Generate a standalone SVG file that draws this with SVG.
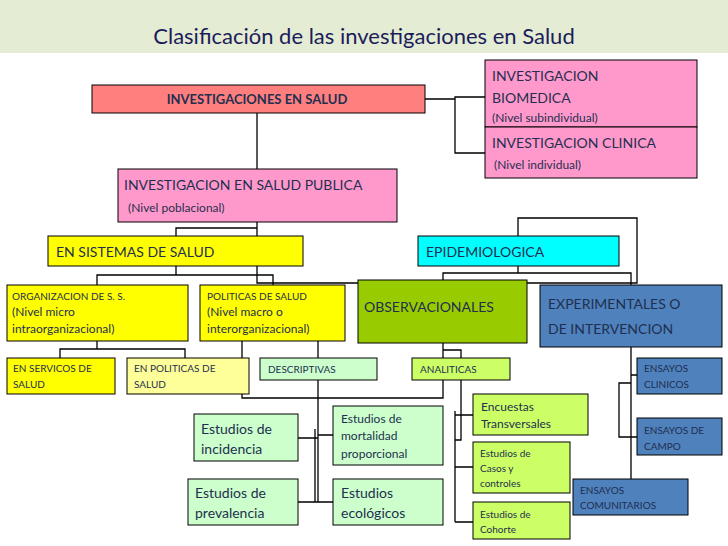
<svg xmlns="http://www.w3.org/2000/svg" width="728" height="546" viewBox="0 0 728 546">
<style>
rect{stroke:#000;stroke-width:1}
text{font-family:Lato,"Open Sans",sans-serif;fill:#1f2f4f}
.c path{fill:none;stroke:#000;stroke-width:1.3}
.s{font-size:10px}.m{font-size:12px}.l{font-size:14px}
</style>
<rect x="0" y="0" width="728" height="53" fill="#e4ecd4" style="stroke:none"/>
<text x="364" y="44" text-anchor="middle" style="font-size:22px;fill:#1c1c5a">Clasificación de las investigaciones en Salud</text>
<g class="c">
<path d="M425 99H455M485 97H455V153H485"/>
<path d="M257 113V169"/>
<path d="M257 222V228H176V236M257 228V283H637V218H518V236"/>
<path d="M176 266V275H97V285M176 275H273V285"/>
<path d="M518 266V273H443V280M518 273H631V285M631 347V479"/>
<path d="M97 341V349H60V358M97 349H185V358"/>
<path d="M242 341V398H443V343M443 343V350H461V358"/>
<path d="M318 341V502M298 438H318M318 435H333M298 502H333M315 429V502"/>
<path d="M461 380V440H455M455 411V522M455 415H473M455 467H473M455 522H473"/>
<path d="M631 375H637M631 383H619V437H637"/>
</g>
<g id="n1"><rect x="92" y="85" width="333" height="28" fill="#ff7f7f"/><text x="257" y="104" text-anchor="middle" style="font-size:13px;font-weight:bold">INVESTIGACIONES EN SALUD</text></g>
<g id="n2"><rect x="485" y="60" width="212" height="67" fill="#ff99cc"/><text x="492" y="81" class="l">INVESTIGACION</text><text x="492" y="103" class="l">BIOMEDICA</text><text x="492" y="122" class="m">(Nivel subindividual)</text></g>
<g id="n3"><rect x="485" y="127" width="212" height="51" fill="#ff99cc"/><text x="492" y="148" class="l">INVESTIGACION CLINICA</text><text x="494" y="169" class="m">(Nivel individual)</text></g>
<g id="n4"><rect x="118" y="169" width="279" height="53" fill="#ff99cc"/><text x="124" y="190" class="l">INVESTIGACION EN SALUD PUBLICA</text><text x="128" y="212" class="m">(Nivel poblacional)</text></g>
<g id="n5"><rect x="48" y="236" width="255" height="30" fill="#ffff00"/><text x="56" y="257" class="l">EN SISTEMAS DE SALUD</text></g>
<g id="n6"><rect x="418" y="236" width="201" height="30" fill="#00ffff"/><text x="426" y="257" class="l">EPIDEMIOLOGICA</text></g>
<g id="n7"><rect x="7" y="285" width="181" height="56" fill="#ffff00"/><text x="12" y="300" class="s">ORGANIZACION DE S. S.</text><text x="12" y="316" class="m">(Nivel micro</text><text x="12" y="333" class="m">intraorganizacional)</text></g>
<g id="n8"><rect x="200" y="285" width="145" height="56" fill="#ffff00"/><text x="207" y="300" class="s">POLITICAS DE SALUD</text><text x="207" y="316" class="m">(Nivel macro o</text><text x="207" y="333" class="m">interorganizacional)</text></g>
<g id="n9"><rect x="358" y="280" width="169" height="63" fill="#99cc00"/><text x="364" y="312" class="l">OBSERVACIONALES</text></g>
<g id="n10"><rect x="540" y="285" width="182" height="62" fill="#4f81bd"/><text x="548" y="309" class="l">EXPERIMENTALES O</text><text x="548" y="334" class="l">DE INTERVENCION</text></g>
<g id="n11"><rect x="7" y="358" width="108" height="36" fill="#ffff00"/><text x="13" y="372" class="s">EN SERVICOS DE</text><text x="13" y="388" class="s">SALUD</text></g>
<g id="n12"><rect x="127" y="358" width="122" height="36" fill="#ffff99"/><text x="134" y="372" class="s">EN POLITICAS DE</text><text x="134" y="388" class="s">SALUD</text></g>
<g id="n13"><rect x="260" y="358" width="117" height="22" fill="#ccffcc"/><text x="268" y="373" class="s">DESCRIPTIVAS</text></g>
<g id="n14"><rect x="412" y="358" width="98" height="22" fill="#ccff66"/><text x="420" y="373" class="s">ANALITICAS</text></g>
<g id="n15"><rect x="637" y="358" width="85" height="36" fill="#4f81bd"/><text x="644" y="372" class="s">ENSAYOS</text><text x="644" y="388" class="s">CLINICOS</text></g>
<g id="n16"><rect x="637" y="418" width="85" height="37" fill="#4f81bd"/><text x="644" y="434" class="s">ENSAYOS DE</text><text x="644" y="450" class="s">CAMPO</text></g>
<g id="n17"><rect x="573" y="479" width="115" height="36" fill="#4f81bd"/><text x="580" y="494" class="s">ENSAYOS</text><text x="580" y="509" class="s">COMUNITARIOS</text></g>
<g id="n18"><rect x="473" y="394" width="115" height="41" fill="#ccff66"/><text x="481" y="411" class="m">Encuestas</text><text x="481" y="428" class="m">Transversales</text></g>
<g id="n19"><rect x="473" y="442" width="97" height="51" fill="#ccff66"/><text x="480" y="457" class="s">Estudios de</text><text x="480" y="472" class="s">Casos y</text><text x="480" y="487" class="s">controles</text></g>
<g id="n20"><rect x="473" y="502" width="97" height="37" fill="#ccff66"/><text x="480" y="518" class="s">Estudios de</text><text x="480" y="533" class="s">Cohorte</text></g>
<g id="n21"><rect x="194" y="414" width="104" height="47" fill="#ccffcc"/><text x="201" y="434" class="l">Estudios de</text><text x="201" y="454" class="l">incidencia</text></g>
<g id="n22"><rect x="188" y="479" width="110" height="46" fill="#ccffcc"/><text x="195" y="498" class="l">Estudios de</text><text x="195" y="518" class="l">prevalencia</text></g>
<g id="n23"><rect x="333" y="406" width="110" height="59" fill="#ccffcc"/><text x="341" y="423" class="m">Estudios de</text><text x="341" y="440" class="m">mortalidad</text><text x="341" y="458" class="m">proporcional</text></g>
<g id="n24"><rect x="333" y="479" width="110" height="46" fill="#ccffcc"/><text x="341" y="498" class="l">Estudios</text><text x="341" y="518" class="l">ecológicos</text></g>
</svg>
